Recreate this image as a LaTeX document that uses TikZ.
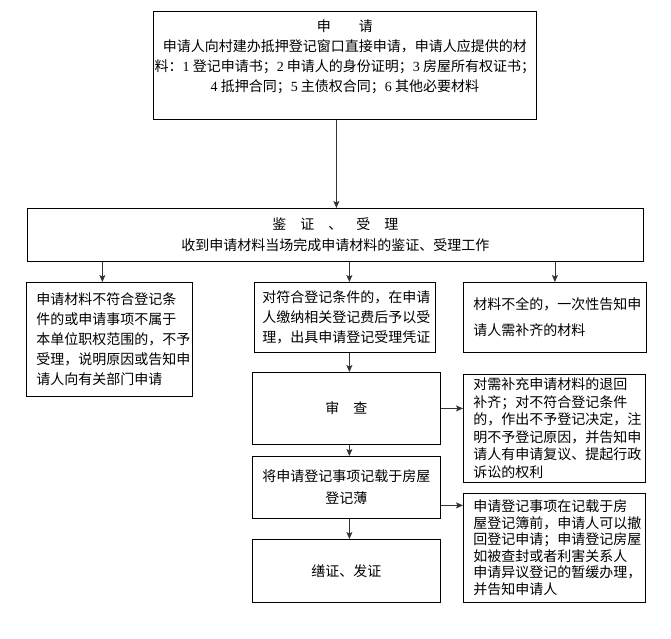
\documentclass[tikz,border=0pt]{standalone}
\usepackage{fontspec}
\setmainfont{Noto Sans CJK SC}
\newfontfamily\numfont{Liberation Serif}
\usetikzlibrary{positioning, arrows.meta}
\tikzset{
    x=1pt, y=-1pt, % pixel units, y runs downwards
    >={Stealth[length=7pt, width=6pt, inset=1.5pt]}, % Small filled arrowheads
    every node/.style={font=\fontsize{14}{20}\selectfont},
    box/.style={draw, line width=0.8pt, anchor=north west, inner sep=0pt, align=center}, % Centred boxes
    flushbox/.style={box, align=left, inner xsep=10pt, text width=#1}, % Boxes with flush-left text
    link/.style={->, line width=0.8pt, draw=black!80}, % Connectors
}

\begin{document}
\begin{tikzpicture}
    \useasboundingbox[fill=white] (0,0) rectangle (671,638);

    \node[box, minimum width=383, minimum height=108] (apply) at (153,11)
        {申　　请\\
         申请人向村建办抵押登记窗口直接申请，申请人应提供的材\\
         料：{\numfont 1} 登记申请书；{\numfont 2} 申请人的身份证明；{\numfont 3} 房屋所有权证书；\\
         {\numfont 4} 抵押合同；{\numfont 5} 主债权合同；{\numfont 6} 其他必要材料\\
         \mbox{}};
    \node[box, minimum width=616, minimum height=53, font=\fontsize{14}{21}\selectfont] (accept) at (27,208)
        {鉴　证　、　受　理\\收到申请材料当场完成申请材料的鉴证、受理工作};

    \node[flushbox=146, minimum height=114] (reject) at (26,282)
        {申请材料不符合登记条\\件的或申请事项不属于\\本单位职权范围的，不予\\受理，说明原因或告知申\\请人向有关部门申请};
    \node[flushbox=165, inner xsep=8pt, minimum height=70] (admit) at (254,282)
        {对符合登记条件的，在申请\\人缴纳相关登记费后予以受\\理，出具申请登记受理凭证};
    \node[flushbox=163, minimum height=70, font=\fontsize{14}{26}\selectfont] (supply) at (463,282)
        {材料不全的，一次性告知申\\请人需补齐的材料};

    \node[box, minimum width=188, minimum height=72] (review) at (252,372) {审　查};
    \node[flushbox=162, minimum height=108, font=\fontsize{14}{17.5}\selectfont] (refuse) at (463,374)
        {对需补充申请材料的退回\\补齐；对不符合登记条件\\的，作出不予登记决定，注\\明不予登记原因，并告知申\\请人有申请复议、提起行政\\诉讼的权利};

    \node[box, minimum width=188, minimum height=62, font=\fontsize{14}{22}\selectfont] (record) at (252,456)
        {将申请登记事项记载于房屋\\登记薄};
    \node[flushbox=162, minimum height=109, font=\fontsize{14}{16.5}\selectfont] (withdraw) at (463,493)
        {申请登记事项在记载于房\\屋登记簿前，申请人可以撤\\回登记申请；申请登记房屋\\如被查封或者利害关系人\\申请异议登记的暂缓办理，\\并告知申请人};

    \node[box, minimum width=188, minimum height=63] (issue) at (252,539) {缮证、发证};

    % start points of the arrows that leave off-centre
    \coordinate (apply out) at ([xshift=-8.5pt]apply.south);
    \coordinate (admit out) at ([xshift=4.5pt]admit.south);
    \coordinate (record out) at ([yshift=-18pt]record.east);

    \path
        (apply out) edge[link] (apply out |- accept.north)
        ([xshift=-7pt]accept.south -| reject.north) edge[link] ([xshift=-7pt]reject.north)
        ([xshift=4.5pt]accept.south -| admit.north) edge[link] ([xshift=4.5pt]admit.north)
        (accept.south -| supply.north) edge[link] (supply.north)
        (admit out) edge[link] (admit out |- review.north)
        ([xshift=3pt]review.south) edge[link] ([xshift=3pt]record.north)
        ([xshift=3pt]record.south) edge[link] ([xshift=3pt]issue.north)
        (review.east) edge[link] (review.east -| refuse.west)
        (record out) edge[link] (record out -| withdraw.west);
\end{tikzpicture}
\end{document}
